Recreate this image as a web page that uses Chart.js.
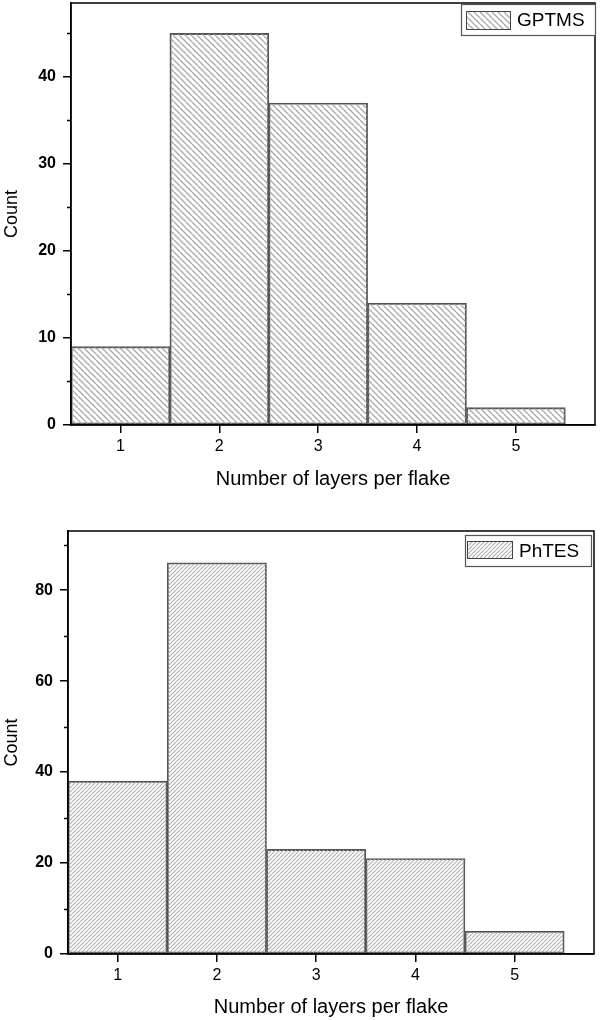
<!DOCTYPE html>
<html><head><meta charset="utf-8">
<script src="https://cdn.jsdelivr.net/npm/chart.js@4.4.0/dist/chart.umd.min.js"></script>
<style>
html,body{margin:0;padding:0;background:#fff;}
.wrap{position:relative;width:600px;height:510px;}
canvas{display:block;}
</style></head><body>
<div class="wrap"><canvas id="c1" width="600" height="510"></canvas></div>
<div class="wrap"><canvas id="c2" width="600" height="510"></canvas></div>
<script>
// ---- data ----
const layers = [1, 2, 3, 4, 5];
const xTickLabels = ['1', '2', '3', '4', '5'];
const gptmsCounts = [9, 45, 37, 14, 2];
const phtesCounts = [38, 86, 23, 21, 5];
const seriesNames = ['GPTMS', 'PhTES'];
const xTitle = 'Number of layers per flake';
const yTitle = 'Count';

const FONT = '"Liberation Sans", Arial, sans-serif';

function hatch(dir, s, color, lw) {
  const c = document.createElement('canvas');
  c.width = s; c.height = s;
  const g = c.getContext('2d');
  g.strokeStyle = color; g.lineWidth = lw;
  g.beginPath();
  for (const o of [-s, 0, s]) {
    if (dir === '\\') { g.moveTo(o, 0); g.lineTo(o + s, s); }
    else { g.moveTo(o, s); g.lineTo(o + s, 0); }
  }
  g.stroke();
  return g.createPattern(c, 'repeat');
}

const framePlugin = {
  id: 'frame',
  afterDraw(chart, args, opts) {
    const ctx = chart.ctx, a = chart.chartArea, y = chart.scales.y;
    ctx.save();
    // minor y ticks
    ctx.strokeStyle = '#000'; ctx.lineWidth = 1.5;
    ctx.beginPath();
    for (let v = opts.step / 2; v < y.max; v += opts.step) {
      const py = Math.round(y.getPixelForValue(v)) + 0.5;
      ctx.moveTo(a.left - 4, py); ctx.lineTo(a.left, py);
    }
    ctx.stroke();
    // frame
    ctx.lineWidth = 1.5;
    ctx.strokeRect(a.left, a.top, a.right - a.left, a.bottom - a.top);
    // legend
    const L = opts.legend;
    const bx = a.right - L.fromRight, by = a.top + L.top;
    ctx.fillStyle = '#fff';
    ctx.fillRect(bx, by, L.w, L.h);
    ctx.strokeStyle = '#555'; ctx.lineWidth = 1.2;
    ctx.strokeRect(bx + 0.5, by + 0.5, L.w, L.h);
    const ds = chart.data.datasets[0];
    ctx.fillStyle = ds.backgroundColor;
    ctx.fillRect(bx + L.sx, by + L.sy, L.sw, L.sh);
    ctx.strokeStyle = '#444'; ctx.lineWidth = 1;
    ctx.strokeRect(bx + L.sx + 0.5, by + L.sy + 0.5, L.sw, L.sh);
    ctx.fillStyle = '#000';
    ctx.font = '19px ' + FONT;
    ctx.textBaseline = 'middle';
    ctx.fillText(ds.label, bx + L.tx, by + L.h / 2 + 1);
    ctx.restore();
  }
};

function makeChart(id, counts, label, cfg) {
  return new Chart(document.getElementById(id), {
    type: 'bar',
    data: {
      datasets: [{
        label: label,
        data: layers.map((x, i) => ({ x: x, y: counts[i] })),
        backgroundColor: cfg.pattern,
        borderColor: '#555',
        borderWidth: 1.2,
        borderSkipped: false,
        barPercentage: 1,
        categoryPercentage: 1
      }]
    },
    options: {
      responsive: false,
      animation: false,
      devicePixelRatio: 1,
      layout: { padding: { top: cfg.top, right: cfg.right, left: 0, bottom: 0 } },
      plugins: {
        legend: { display: false },
        tooltip: { enabled: false },
        frame: { step: cfg.step, legend: cfg.legend }
      },
      scales: {
        x: {
          type: 'linear', min: 0.5, max: 5.8, offset: false,
          afterBuildTicks: s => { s.ticks = layers.map(v => ({ value: v })); },
          ticks: {
            callback: v => xTickLabels[layers.indexOf(v)],
            font: { family: FONT, size: 16 }, color: '#000', padding: 4,
            autoSkip: false, maxRotation: 0, includeBounds: false
          },
          grid: { offset: false, drawOnChartArea: false, drawTicks: true, tickLength: 8, color: '#000', lineWidth: 1.5 },
          border: { display: true, color: '#000', width: 1.5 },
          title: { display: true, text: xTitle, color: '#000', font: { family: FONT, size: 20 }, padding: { top: 0, bottom: cfg.titlePad } },
          afterFit: s => { s.height = cfg.xh; s.paddingLeft = 0; s.paddingRight = 0; }
        },
        y: {
          min: 0, max: cfg.ymax,
          ticks: {
            stepSize: cfg.step, includeBounds: false,
            font: { family: FONT, size: 16, weight: 'bold' }, color: '#000', padding: 7
          },
          grid: { drawOnChartArea: false, drawTicks: true, tickLength: 8, color: '#000', lineWidth: 1.5 },
          border: { display: true, color: '#000', width: 1.5 },
          title: { display: true, text: yTitle, color: '#000', font: { family: FONT, size: 18 }, padding: { top: 1, bottom: 0 } },
          afterFit: s => { s.width = cfg.yw; s.paddingTop = 0; s.paddingBottom = 0; }
        }
      }
    },
    plugins: [framePlugin]
  });
}

makeChart('c1', gptmsCounts, seriesNames[0], {
  pattern: hatch('\\', 6, '#a8a8a8', 1.3),
  top: 3, right: 5, yw: 71, xh: 85, titlePad: 19, ymax: 48.5, step: 10,
  legend: { fromRight: 134, top: 1, w: 134, h: 31, sx: 5, sy: 7, sw: 44, sh: 18, tx: 56 }
});
makeChart('c2', phtesCounts, seriesNames[1], {
  pattern: hatch('/', 4, '#b0b0b0', 1.2),
  top: 21, right: 6, yw: 68, xh: 66, titlePad: 1, ymax: 93, step: 20,
  legend: { fromRight: 129, top: 4, w: 126, h: 31, sx: 2, sy: 6, sw: 45, sh: 17, tx: 54 }
});
</script>
</body></html>
